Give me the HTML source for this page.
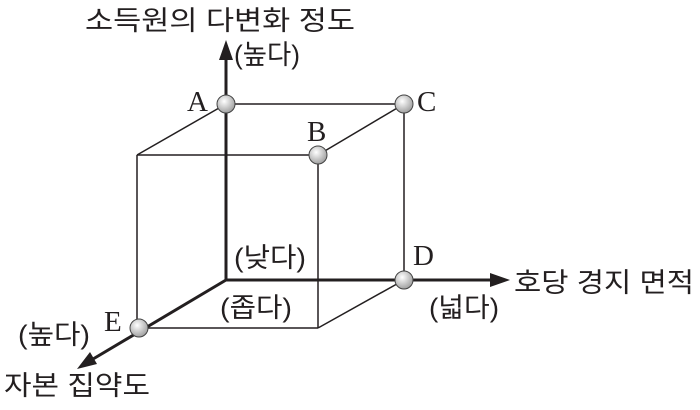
<!DOCTYPE html>
<html><head><meta charset="utf-8"><style>
body{margin:0;background:#fff}
svg text{font-family:"Liberation Sans","Noto Sans CJK KR",sans-serif;fill:#231f20}
.s{font-family:"Liberation Serif",serif !important}
</style></head><body>
<svg width="700" height="405" viewBox="0 0 700 405" xmlns="http://www.w3.org/2000/svg">
<defs>
<radialGradient id="g" cx="0.4" cy="0.35" r="0.7"><stop offset="0" stop-color="#fff"/><stop offset="1" stop-color="#9a9a9a"/></radialGradient>
</defs>
<g stroke="#231f20" stroke-width="1.5" fill="none">
<line x1="226" y1="104" x2="404" y2="104"/>
<line x1="404" y1="104" x2="404" y2="280"/>
<line x1="226" y1="104" x2="137" y2="155"/>
<line x1="404" y1="104" x2="318" y2="155"/>
<line x1="137" y1="155" x2="318" y2="155"/>
<line x1="137" y1="155" x2="137" y2="328"/>
<line x1="318" y1="155" x2="318" y2="328"/>
<line x1="139" y1="328" x2="318" y2="328"/>
<line x1="318" y1="328" x2="404" y2="280"/>
</g>
<g stroke="#231f20" stroke-width="3" fill="none">
<line x1="226" y1="280" x2="226" y2="55"/>
<line x1="226" y1="280" x2="495" y2="280"/>
<line x1="226" y1="280" x2="88" y2="362"/>
</g>
<g fill="#231f20">
<polygon points="226,40 219,60 233,60"/>
<polygon points="510,280 490,273 490,287"/>
<polygon points="77,369 90,352 97,364"/>
</g>
<g stroke="#444" stroke-width="1" fill="url(#g)">
<circle cx="226" cy="104" r="9"/>
<circle cx="404" cy="104" r="9"/>
<circle cx="318" cy="155" r="9"/>
<circle cx="404" cy="280" r="9"/>
<circle cx="139" cy="328" r="9"/>
</g>
<g font-size="29">
<text x="187" y="111" class="s">A</text>
<text x="417" y="111" class="s">C</text>
<text x="307" y="141" class="s">B</text>
<text x="413" y="265" class="s">D</text>
<text x="104" y="331" class="s">E</text>
</g>
<g font-size="27">
<text x="85" y="30" textLength="270" lengthAdjust="spacingAndGlyphs">소득원의 다변화 정도</text>
<text x="234" y="64" textLength="66" lengthAdjust="spacingAndGlyphs">(높다)</text>
<text x="234" y="267" textLength="72" lengthAdjust="spacingAndGlyphs">(낮다)</text>
<text x="220" y="317" textLength="72" lengthAdjust="spacingAndGlyphs">(좁다)</text>
<text x="429" y="317" textLength="70" lengthAdjust="spacingAndGlyphs">(넓다)</text>
<text x="514" y="292" textLength="180" lengthAdjust="spacingAndGlyphs">호당 경지 면적</text>
<text x="18" y="344" textLength="72" lengthAdjust="spacingAndGlyphs">(높다)</text>
<text x="4" y="395" textLength="146" lengthAdjust="spacingAndGlyphs">자본 집약도</text>
</g>
</svg>
</body></html>
